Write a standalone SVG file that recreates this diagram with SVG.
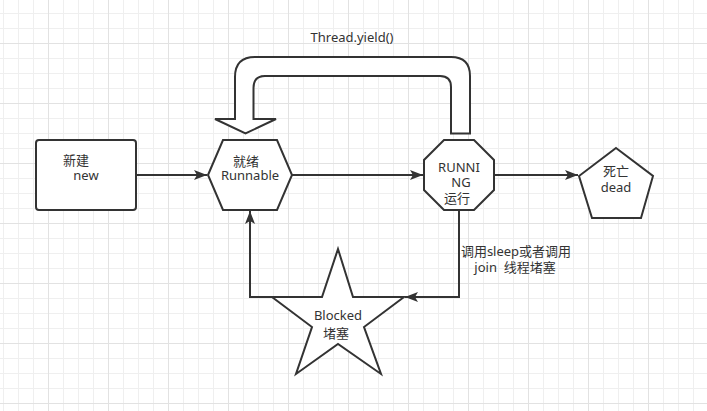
<svg xmlns="http://www.w3.org/2000/svg" width="707" height="411" viewBox="0 0 707 411">
<defs>
<pattern id="minor" patternUnits="userSpaceOnUse" x="3" y="13" width="15" height="15"><path d="M0.5 0V15M0 0.5H15" stroke="#efefef" stroke-width="1" fill="none"/></pattern>
<pattern id="major" patternUnits="userSpaceOnUse" x="48" y="43" width="60" height="60"><path d="M0.5 0V60M0 0.5H60" stroke="#e2e2e2" stroke-width="1" fill="none"/></pattern>
<marker id="arr" markerUnits="userSpaceOnUse" markerWidth="16" markerHeight="12" viewBox="-14 -6 16 12" refX="0" refY="0" orient="auto"><path d="M0 0L-13 -5L-10 0L-13 5Z" fill="#333"/></marker>
</defs>
<style>
.shape{fill:#fff;stroke:#333;stroke-width:2;stroke-linejoin:miter}
.edge{fill:none;stroke:#333;stroke-width:2}
text{font-family:"Noto Sans","Noto Sans CJK SC",sans-serif;font-size:13px;fill:#333;text-anchor:middle;white-space:pre}
</style>
<rect width="707" height="411" fill="#fff"/>
<rect width="707" height="411" fill="url(#minor)"/>
<rect width="707" height="411" fill="url(#major)"/>
<g id="connectors">
<path class="edge" d="M136 175H207" marker-end="url(#arr)"/>
<path class="edge" d="M292 175H423" marker-end="url(#arr)"/>
<path class="edge" d="M494 175H578" marker-end="url(#arr)"/>
<path class="edge" d="M459 210V297H405" marker-end="url(#arr)"/>
<path class="edge" d="M272 297H250V211" marker-end="url(#arr)"/>
<path class="shape" d="M451 133.5V87Q451 76 440 76H265Q253.5 76 253.5 88V119H276L245.5 133.5L215 119H235V77Q235 57 255 57H451Q470 57 470 76V133.5Z"/>
<text x="352" y="41.5">Thread.yield()</text>
<text x="516" y="256">调用sleep或者调用<tspan x="515" dy="16">join  线程堵塞</tspan></text>
</g>
<g id="new">
<rect class="shape" x="36" y="140" width="100" height="70" rx="3"/>
<text x="76" y="165">新建<tspan x="86" dy="15">new</tspan></text>
</g>
<g id="runnable">
<polygon class="shape" points="208,175 223,140 277,140 292,175 277,210 223,210"/>
<text x="246" y="165.5">就绪<tspan x="250" dy="14">Runnable</tspan></text>
</g>
<g id="running">
<polygon class="shape" points="444,140 474,140 494,160 494,190 474,210 444,210 424,190 424,160"/>
<text x="459" y="172">RUNNI<tspan x="461" dy="15">NG</tspan><tspan x="457" dy="16">运行</tspan></text>
</g>
<g id="dead">
<polygon class="shape" points="616,148 653,176 641,218 592,218 579,176"/>
<text x="616" y="175.5">死亡<tspan x="616" dy="16.5">dead</tspan></text>
</g>
<g id="blocked">
<polygon class="shape" points="338,249 353,297 404,297 364,327 381,374 338,344 296,374 312,327 272,297 322,297"/>
<text x="338" y="320">Blocked<tspan x="336" dy="18">堵塞</tspan></text>
</g>
</svg>
